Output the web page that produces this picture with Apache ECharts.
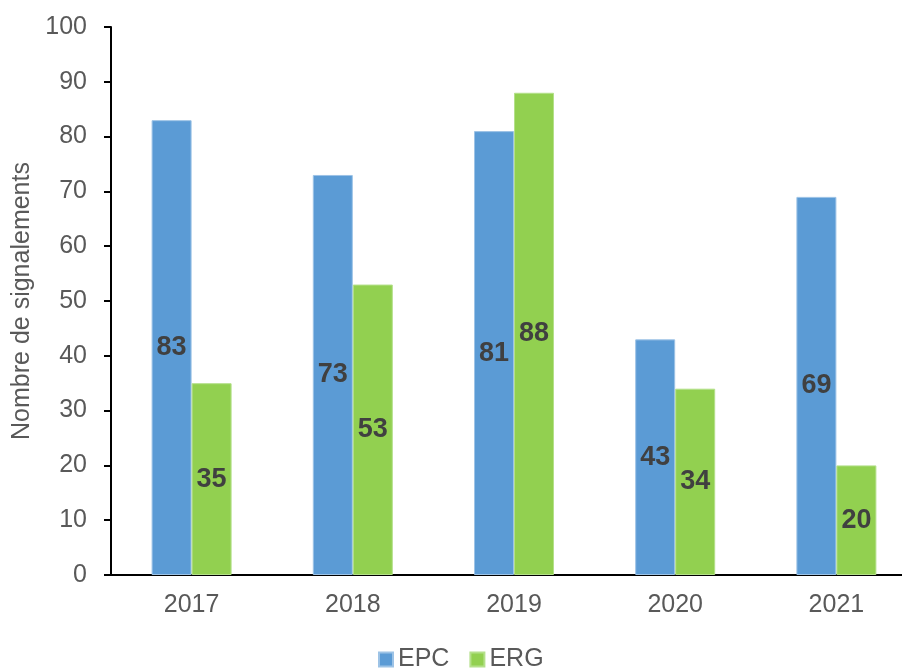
<!DOCTYPE html>
<html><head><meta charset="utf-8">
<script src="https://cdn.jsdelivr.net/npm/echarts@6/dist/echarts.min.js"></script>
<style>html,body{margin:0;padding:0;background:#fff;overflow:hidden;width:902px;height:671px}#c{width:917px;height:671px}</style>
</head><body><div id="c"></div>
<script>
var categories = ['2017','2018','2019','2020','2021'];
var epc = [83, 73, 81, 43, 69];
var erg = [35, 53, 88, 34, 20];
var yTicks = [0,10,20,30,40,50,60,70,80,90,100];

var chart = echarts.init(document.getElementById('c'), null, {renderer:'canvas'});
var font = '"Liberation Sans", Arial, sans-serif';
var label = {show:true, position:'inside', color:'#404040', fontWeight:'bold', fontSize:27, fontFamily:font};
chart.setOption({
  animation:false,
  grid:{left:111, right:0, top:27, bottom:96, containLabel:false},
  legend:{top:647, left:378, padding:0, itemWidth:14, itemHeight:14, itemGap:20, icon:'rect',
    textStyle:{fontSize:25, color:'#595959', fontFamily:font},
    data:['EPC','ERG']},
  xAxis:{type:'category', data:categories,
    axisLine:{lineStyle:{color:'#000', width:2}}, axisTick:{show:false},
    axisLabel:{fontSize:25, color:'#595959', fontFamily:font, margin:18}},
  yAxis:{type:'value', min:0, max:100, interval:10,
    name:'Nombre de signalements', nameLocation:'middle', nameGap:76, nameRotate:90,
    nameTextStyle:{fontSize:25, color:'#595959', fontFamily:font},
    axisLine:{show:true, lineStyle:{color:'#000', width:2}},
    axisTick:{show:true, length:7, lineStyle:{color:'#000', width:2}},
    splitLine:{show:false},
    axisLabel:{fontSize:25, color:'#595959', fontFamily:font, margin:24,
      formatter:function(v){return yTicks.indexOf(v)>=0?String(v):'';}}},
  series:[
    {name:'EPC', type:'bar', data:epc, barWidth:40, barGap:'0%',
      itemStyle:{color:'#5B9BD5', borderColor:'#9DC3E6', borderWidth:1}, label:label},
    {name:'ERG', type:'bar', data:erg, barWidth:40, barGap:'0%',
      itemStyle:{color:'#92D050', borderColor:'#B4E08A', borderWidth:1}, label:label}
  ]
});
</script></body></html>
